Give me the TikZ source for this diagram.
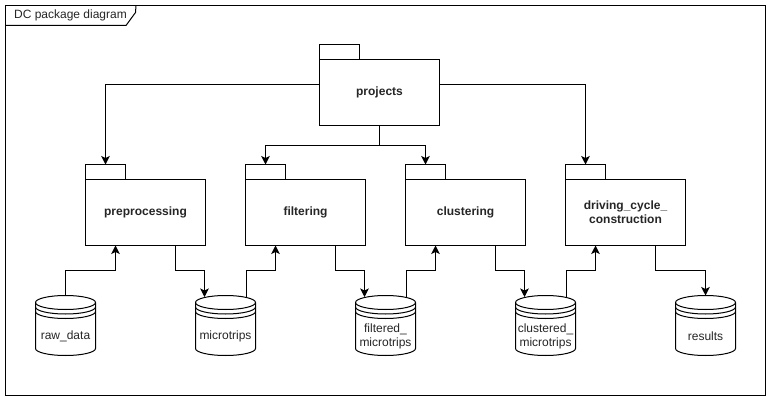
\documentclass[tikz,border=0pt]{standalone}
\usepackage{fontspec}
\setmainfont{Liberation Sans}
\usetikzlibrary{calc, arrows.meta}
\newcommand{\dbgap}{\mbox{}\\[17pt]}

\begin{document}
\begin{tikzpicture}[
  x=1pt, y=-1pt,
  line width=1pt,
  diagframe/.style={
    rectangle, draw=black, fill=white,
    minimum width=760pt, minimum height=390pt,
    inner sep=0pt, outer sep=0pt
  },
  frametitle/.style={
    font=\fontsize{12}{14}\selectfont, color=black!85,
    inner sep=0pt
  },
  %% cuerpo del paquete
  pkgbody/.style={
    rectangle, draw=black, fill=white,
    font=\fontsize{12}{14}\selectfont\bfseries,
    align=center, text=black!85,
    minimum width=120pt, minimum height=66pt,
    inner sep=0pt, outer sep=0pt
  },
  pkgtab/.style={
    rectangle, draw=black, fill=white,
    minimum width=40pt, minimum height=15pt,
    inner sep=0pt, outer sep=0pt, anchor=south west
  },
  %% almacen de datos con tres aros
  datastore/.style={
    rectangle, minimum width=60pt, minimum height=60pt,
    inner sep=0pt, outer sep=0pt,
    font=\fontsize{12}{14}\selectfont,
    align=center, text=black!85,
    append after command={\pgfextra{
      \draw[fill=white]
        ([yshift=-7pt]\tikzlastnode.north west)
        arc[start angle=180, end angle=0, x radius=30pt, y radius=7pt]
        -- ([yshift=7pt]\tikzlastnode.south east)
        arc[start angle=0, end angle=-180, x radius=30pt, y radius=7pt]
        -- cycle;
      \draw ([yshift=-7pt]\tikzlastnode.north west)
        arc[start angle=180, end angle=360, x radius=30pt, y radius=7pt];
      \draw ([yshift=-11.5pt]\tikzlastnode.north west)
        arc[start angle=180, end angle=360, x radius=30pt, y radius=7pt];
      \draw ([yshift=-16pt]\tikzlastnode.north west)
        arc[start angle=180, end angle=360, x radius=30pt, y radius=7pt];
    }}
  },
  arr/.style={
    -{Stealth[length=8.5pt, width=8.5pt, inset=2pt]}, draw=black
  }
]
\useasboundingbox (0,0) rectangle (771,401);

%% ── Marco y titulo ─────────────────────────────────────────────────────────
\node[diagframe] (frame) at (385.5,200.5) {};
\draw (frame.north west) ++(0,20) -- ++(120.5,0) -- ++(9.5,-13) -- ++(0.5,-7);
\node[frametitle] (title) at (70.5,15.5) {DC package diagram};

%% ── Paquete principal ──────────────────────────────────────────────────────
\node[pkgbody] (projects) at (379.5,92.5) {projects};
\node[pkgtab] (projectstab) at (projects.north west) {};

%% ── Paquetes del proceso ───────────────────────────────────────────────────
\node[pkgbody] (preprocessing) at (145.5,212.5) {preprocessing};
\node[pkgtab] (preprocessingtab) at (preprocessing.north west) {};

\node[pkgbody] (filtering) at (305.5,212.5) {filtering};
\node[pkgtab] (filteringtab) at (filtering.north west) {};

\node[pkgbody] (clustering) at (465.5,212.5) {clustering};
\node[pkgtab] (clusteringtab) at (clustering.north west) {};

\node[pkgbody] (construction) at (625.5,212.5)
  {driving\_cycle\_\\construction};
\node[pkgtab] (constructiontab) at (construction.north west) {};

%% ── Almacenes de datos ─────────────────────────────────────────────────────
\node[datastore] (rawdata) at (65.5,325.5) {\dbgap raw\_data};
\node[datastore] (microtrips) at (225.5,325.5) {\dbgap microtrips};
\node[datastore] (filteredtrips) at (385.5,325.5)
  {\dbgap filtered\_\\microtrips};
\node[datastore] (clusteredtrips) at (545.5,325.5)
  {\dbgap clustered\_\\microtrips};
\node[datastore] (results) at (705.5,325.5) {\dbgap results};

%% ────────────────── FLECHAS ────────────────────────────────────────────────

%% projects -> paquetes
\draw[arr] ($(projects.west)+(0,-7.5)$) -| (preprocessingtab.north);
\draw[arr] ($(projects.east)+(0,-7.5)$) -| (constructiontab.north);
\draw[arr] (projects.south) -- ++(0,20) -| (filteringtab.north);
\draw[arr] (projects.south) -- ++(0,20) -| (clusteringtab.north);

%% datos -> paquete
\draw[arr] (rawdata.north) -- ++(0,-25) -| ($(preprocessing.south)+(-30,0)$);
\draw[arr] ($(microtrips.north)+(21,1.5)$) -- ++(0,-26.5)
  -| ($(filtering.south)+(-30,0)$);
\draw[arr] ($(filteredtrips.north)+(21,1.5)$) -- ++(0,-26.5)
  -| ($(clustering.south)+(-30,0)$);
\draw[arr] ($(clusteredtrips.north)+(21,1.5)$) -- ++(0,-26.5)
  -| ($(construction.south)+(-30,0)$);

%% paquete -> datos
\draw[arr] ($(preprocessing.south)+(30,0)$) -- ++(0,25)
  -| ($(microtrips.north)+(-21,1.5)$);
\draw[arr] ($(filtering.south)+(30,0)$) -- ++(0,25)
  -| ($(filteredtrips.north)+(-21,1.5)$);
\draw[arr] ($(clustering.south)+(30,0)$) -- ++(0,25)
  -| ($(clusteredtrips.north)+(-21,1.5)$);
\draw[arr] ($(construction.south)+(30,0)$) -- ++(0,25) -| (results.north);

\end{tikzpicture}
\end{document}
